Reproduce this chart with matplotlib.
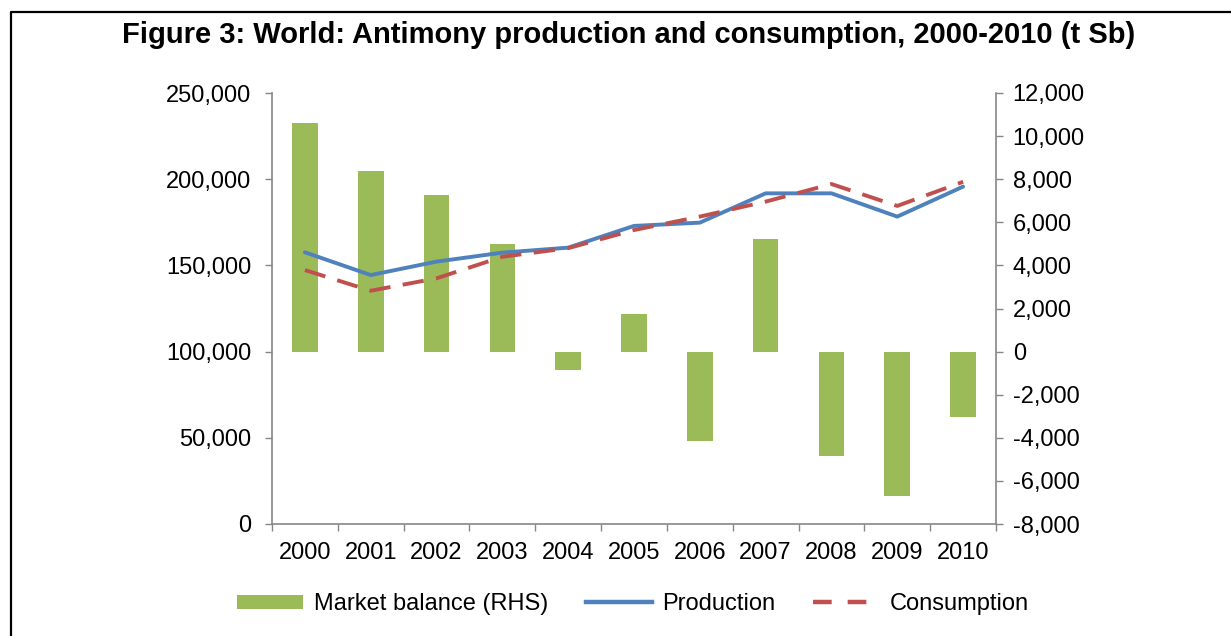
import matplotlib
matplotlib.use("Agg")
import matplotlib.pyplot as plt
from matplotlib.lines import Line2D
from matplotlib.patches import Patch
from matplotlib.ticker import FuncFormatter, FixedLocator

plt.rcParams['font.family'] = ['Liberation Sans', 'DejaVu Sans']

years = ['2000', '2001', '2002', '2003', '2004', '2005', '2006', '2007', '2008', '2009', '2010']
production = [157600, 144400, 152200, 157400, 160300, 172900, 174800, 191800, 191800, 178300, 195700]
consumption = [147300, 135300, 142500, 155000, 160000, 170500, 178300, 187000, 197200, 184500, 198500]
market_balance = [10600, 8400, 7250, 5000, -870, 1730, -4160, 5230, -4860, -6710, -3030]

title = 'Figure 3: World: Antimony production and consumption, 2000-2010 (t Sb)'
left_ticks = [0, 50000, 100000, 150000, 200000, 250000]
right_ticks = [-8000, -6000, -4000, -2000, 0, 2000, 4000, 6000, 8000, 10000, 12000]

GREEN = '#9BBB59'
BLUE = '#4F81BD'
RED = '#C0504D'
AXC = '#868686'
FS = 17

W, H = 1231, 636
fig = plt.figure(figsize=(W / 100, H / 100), dpi=100)
ax = fig.add_axes([272 / W, 1 - 524 / H, (996 - 272) / W, (524 - 93) / H])
ax2 = ax.twinx()

x = list(range(len(years)))
ax2.bar(x, market_balance, width=0.39, color=GREEN, zorder=2, label='Market balance (RHS)')
ax.plot(x, production, color=BLUE, lw=2.8, solid_capstyle='round', solid_joinstyle='round',
        label='Production')
ax.plot(x, consumption, color=RED, lw=2.8, linestyle=(0, (5.5, 3.2)), label='Consumption')

ax.set_zorder(ax2.get_zorder() + 1)
ax.patch.set_visible(False)

ax.set_xlim(-0.5, len(years) - 0.5)
ax.set_ylim(0, 250000)
ax2.set_ylim(-8000, 12000)
ax.set_yticks(left_ticks)
ax2.set_yticks(right_ticks)
fmt = FuncFormatter(lambda v, p: f'{int(v):,}')
ax.yaxis.set_major_formatter(fmt)
ax2.yaxis.set_major_formatter(fmt)

ax.set_xticks(x)
ax.set_xticklabels(years)
ax.xaxis.set_minor_locator(FixedLocator([i - 0.5 for i in range(len(years) + 1)]))
ax.tick_params(axis='x', which='major', length=0, labelsize=FS, pad=13)
ax.tick_params(axis='x', which='minor', length=5, color=AXC, width=1)
ax.tick_params(axis='y', length=5, color=AXC, width=1, labelsize=FS, pad=10)
ax2.tick_params(axis='y', length=5, color=AXC, width=1, labelsize=FS, pad=7)

for a in (ax, ax2):
    for s in a.spines.values():
        s.set_visible(False)
ax.spines['left'].set_visible(True)
ax.spines['bottom'].set_visible(True)
ax2.spines['right'].set_visible(True)
for s in (ax.spines['left'], ax.spines['bottom'], ax2.spines['right']):
    s.set_color(AXC)
    s.set_linewidth(1.2)

fig.text(629 / W, 1 - 35 / H, title, ha='center', va='center', fontsize=21, fontweight='bold')

handles = [Patch(facecolor=GREEN, edgecolor='none', label='Market balance (RHS)'),
           Line2D([], [], color=BLUE, lw=3.2, label='Production'),
           Line2D([], [], color=RED, lw=3.2, linestyle=(0, (4.2, 3.6)), label='Consumption')]
fig.legend(handles=handles, loc='center', bbox_to_anchor=(633 / W, 1 - 604 / H), ncol=3,
           frameon=False, fontsize=FS, handlelength=2.8, handleheight=0.55,
           handletextpad=0.45, columnspacing=1.6)

fig.add_artist(Line2D([11 / W, 11 / W, 1], [0, 1 - 12 / H, 1 - 12 / H], color='black', lw=1.6,
                      transform=fig.transFigure))

fig.savefig('out.png', dpi=100)
